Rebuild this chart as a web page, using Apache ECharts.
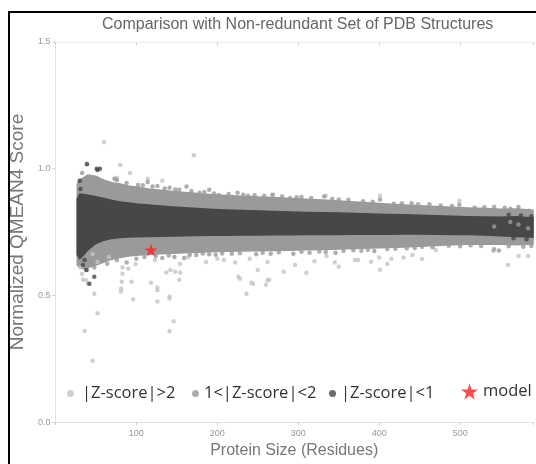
<!DOCTYPE html>
<html>
<head>
<meta charset="utf-8">
<script src="https://cdn.jsdelivr.net/npm/echarts@6/dist/echarts.min.js"></script>
<style>
html,body{margin:0;padding:0;background:#fff;}
#c{width:536px;height:464px;}
</style>
</head>
<body>
<div id="c"></div>
<script>
// ---- Data ----
const titleText = 'Comparison with Non-redundant Set of PDB Structures';
const xName = 'Protein Size (Residues)';
const yName = 'Normalized QMEAN4 Score';
const seriesNames = ['|Z-score|>2', '1<|Z-score|<2', '|Z-score|<1', 'model'];

// Density bands (x = residues, values = score)
const bandX     = [27, 30, 35, 40, 50, 60, 70, 80, 90, 100, 115, 130, 145, 160, 175, 190, 210, 230, 250, 270, 290, 310, 330, 350, 370, 390, 410, 430, 450, 470, 490, 510, 530, 550, 570, 590];
const midUpper  = [0.94, 0.955, 0.965, 0.975, 0.97, 0.955, 0.945, 0.94, 0.932, 0.928, 0.92, 0.915, 0.91, 0.906, 0.902, 0.898, 0.894, 0.891, 0.888, 0.886, 0.882, 0.879, 0.876, 0.873, 0.869, 0.865, 0.861, 0.857, 0.854, 0.851, 0.848, 0.845, 0.843, 0.84, 0.841, 0.836];
const midLower  = [0.62, 0.61, 0.605, 0.61, 0.62, 0.632, 0.643, 0.65, 0.655, 0.658, 0.662, 0.664, 0.666, 0.668, 0.67, 0.672, 0.674, 0.675, 0.676, 0.677, 0.678, 0.68, 0.681, 0.683, 0.685, 0.687, 0.689, 0.691, 0.694, 0.697, 0.70, 0.702, 0.703, 0.702, 0.70, 0.703];
const darkUpper = [0.88, 0.90, 0.898, 0.895, 0.889, 0.882, 0.875, 0.869, 0.865, 0.861, 0.857, 0.853, 0.849, 0.846, 0.843, 0.84, 0.837, 0.835, 0.833, 0.831, 0.829, 0.827, 0.826, 0.825, 0.823, 0.821, 0.819, 0.818, 0.816, 0.814, 0.812, 0.81, 0.809, 0.808, 0.81, 0.806];
const darkLower = [0.66, 0.645, 0.66, 0.68, 0.705, 0.718, 0.725, 0.728, 0.73, 0.731, 0.732, 0.733, 0.734, 0.735, 0.736, 0.737, 0.737, 0.738, 0.738, 0.739, 0.739, 0.74, 0.74, 0.74, 0.741, 0.741, 0.741, 0.742, 0.742, 0.741, 0.74, 0.74, 0.738, 0.735, 0.732, 0.73];

// |Z-score|>2 outliers
const outlierPts = [
  [60,1.104],[171,1.053],[39,1.022],[80,1.015],[92,0.983],[76,0.964],[114,0.96],[132,0.952],
  [269,0.897],[334,0.893],[401,0.893],[499,0.874],
  [34,0.562],[40,0.546],[48,0.507],[82,0.554],[94,0.554],[81,0.527],[81,0.515],[96,0.484],
  [118,0.55],[126,0.531],[126,0.52],[141,0.496],[142,0.60],[148,0.593],[154,0.59],[153,0.562],
  [52,0.43],[36,0.36],[46,0.242],[126,0.476],[141,0.488],[146,0.398],[141,0.359],[90,0.605],
  [46,0.663],[52,0.632],[66,0.652],[83,0.61],[83,0.585],[99,0.624],[123,0.64],[137,0.59],
  [154,0.624],[164,0.652],[186,0.632],[208,0.64],[222,0.63],[240,0.645],[262,0.632],
  [228,0.566],[242,0.55],[262,0.56],[31,0.61],[33,0.585],[38,0.56],
  [226,0.574],[236,0.507],[244,0.546],[250,0.60],[260,0.542],[264,0.562],[282,0.593],
  [310,0.589],[350,0.613],[320,0.635],[345,0.63],[370,0.64],[390,0.633],[400,0.65],
  [415,0.645],[430,0.65],[401,0.601],[374,0.64],[410,0.624],[441,0.659],[453,0.644],
  [470,0.679],[559,0.62],[572,0.655],[584,0.655],[541,0.675],[200,0.645],[296,0.62],[335,0.655]
];
// 1<|Z-score|<2 scattered edge points
const midPts = [
  [33,0.983],[35,0.956],[51,0.936],[73,0.96],[76,0.955],[88,0.944],[102,0.936],[114,0.948],
  [126,0.932],[141,0.925],[153,0.917],[162,0.93],[178,0.905],[190,0.917],[202,0.896],
  [225,0.905],[238,0.893],[268,0.897],[290,0.884],[304,0.888],[332,0.89],[350,0.878],
  [401,0.878],[418,0.862],[440,0.864],[462,0.86],[499,0.858],[518,0.846],[542,0.849],
  [562,0.842],[572,0.849],[585,0.834],[572,0.78],[584,0.765],[562,0.79],[542,0.772],
  [39,0.60],[48,0.61],[64,0.625],[76,0.64],[88,0.63],[100,0.645],[132,0.648],[147,0.652],
  [159,0.648],[174,0.659],[182,0.665],[198,0.66],[218,0.664],[248,0.662],[266,0.664],
  [294,0.664],[314,0.668],[334,0.671],[346,0.668],[378,0.676],[394,0.675],[410,0.683],
  [434,0.686],[453,0.692],[486,0.696],[513,0.698],[542,0.682],[548,0.677],[578,0.692],
  [108,0.935],[120,0.93],[135,0.922],[148,0.918],[168,0.912],[184,0.908],[196,0.902],
  [214,0.9],[232,0.897],[246,0.895],[258,0.893],[280,0.89],[298,0.887],[316,0.884],
  [342,0.88],[362,0.877],[380,0.872],[392,0.87],[428,0.864],[448,0.86],[476,0.855],
  [490,0.853],[530,0.848],[555,0.846],
  [110,0.652],[124,0.655],[140,0.657],[166,0.66],[190,0.662],[206,0.665],[228,0.666],
  [256,0.668],[276,0.67],[304,0.672],[326,0.673],[356,0.676],[368,0.678],[386,0.68],
  [420,0.684],[444,0.687],[466,0.69],[500,0.694],[526,0.695],[560,0.694],[588,0.695]
];
// |Z-score|<1 scattered points (left edge)
const darkPts = [
  [30,0.952],[31,0.92],[33,0.88],[29,0.83],[32,0.78],[29,0.74],[31,0.70],[33,0.67],
  [36,0.64],[34,0.62],[42,0.546],[48,0.574],[51,1.0],[55,1.0],[39,1.018],[52,0.995],[38,0.60],
  [575,0.815],[588,0.812],[560,0.818],[582,0.722],[566,0.726]
];
// model point
const modelPts = [[118, 0.679]];

const xTicks = [100, 200, 300, 400, 500];

// ---- Chart ----
const chart = echarts.init(document.getElementById('c'), null, {renderer: 'canvas'});
const COL_LIGHT = '#c4c4c4', COL_MID = '#9a9a9a', COL_DARK = '#474747';
const STAR = 'path://M50,0 L61.2,34.5 L97.6,34.5 L68.2,55.9 L79.4,90.5 L50,69.1 L20.6,90.5 L31.8,55.9 L2.4,34.5 L38.8,34.5 Z';

function bandSeries(name, upper, lower, color) {
  return {
    type: 'custom', name: name, z: 1, silent: true, clip: true,
    data: bandX.map((x, i) => [x, upper[i], lower[i]]),
    encode: {x: 0, y: [1, 2]},
    renderItem: function (params, api) {
      if (params.dataIndex !== 0) return null;
      const pts = [];
      for (let i = 0; i < bandX.length; i++) pts.push(api.coord([bandX[i], upper[i]]));
      for (let i = bandX.length - 1; i >= 0; i--) pts.push(api.coord([bandX[i], lower[i]]));
      return {type: 'polygon', shape: {points: pts}, style: {fill: color, stroke: color, lineWidth: 1.5}};
    }
  };
}

const legendBase = {
  orient: 'horizontal', itemGap: 0, itemWidth: 7, itemHeight: 7, padding: 0,
  textStyle: {color: '#333', fontSize: 16.5, fontFamily: 'Open Sans'},
  selectedMode: false
};

chart.setOption({
  animation: false,
  backgroundColor: '#fff',
  title: {
    text: titleText, left: 97, top: 12,
    textStyle: {color: '#666', fontSize: 16, fontWeight: 'normal', fontFamily: 'Liberation Sans'}
  },
  grid: {left: 45, top: 42, width: 492.5, height: 385, containLabel: false},
  xAxis: [{
    type: 'value', min: 0, max: 590, interval: 100, position: 'bottom',
    name: xName, nameLocation: 'middle', nameGap: 19,
    nameTextStyle: {color: '#777', fontSize: 16, fontFamily: 'Liberation Sans'},
    axisLine: {show: true, lineStyle: {color: '#e4e4e4', width: 1}},
    axisTick: {show: true, length: 3, lineStyle: {color: '#cfcfcf'}},
    axisLabel: {color: '#999', fontSize: 9, margin: 7, fontFamily: 'Liberation Sans',
      formatter: v => (xTicks.indexOf(v) >= 0 ? String(v) : '')},
    splitLine: {show: false}
  }, {
    type: 'value', min: 0, max: 590, interval: 100, position: 'top',
    axisLine: {show: true, lineStyle: {color: '#ececec', width: 1}},
    axisTick: {show: true, inside: true, length: 3, lineStyle: {color: '#cfcfcf'}},
    axisLabel: {show: false}, splitLine: {show: false}
  }],
  yAxis: {
    type: 'value', min: 0, max: 1.5, interval: 0.5,
    name: yName, nameLocation: 'middle', nameGap: 20, nameRotate: 90,
    nameTextStyle: {color: '#777', fontSize: 19, fontFamily: 'Liberation Sans'},
    axisLine: {show: true, lineStyle: {color: '#e4e4e4', width: 1}},
    axisTick: {show: true, length: 3, lineStyle: {color: '#cfcfcf'}},
    axisLabel: {color: '#999', fontSize: 9, margin: 5, fontFamily: 'Liberation Sans',
      formatter: v => v.toFixed(1)},
    splitLine: {show: false}
  },
  legend: [
    Object.assign({}, legendBase, {data: [seriesNames[0]], left: 67, top: 385,
      textStyle: Object.assign({}, legendBase.textStyle, {padding: [0, 0, 0, 3]})}),
    Object.assign({}, legendBase, {data: [seriesNames[1]], left: 192, top: 385}),
    Object.assign({}, legendBase, {data: [seriesNames[2]], left: 329, top: 385}),
    Object.assign({}, legendBase, {data: [seriesNames[3]], left: 461, top: 383, itemWidth: 17, itemHeight: 17})
  ],
  series: [
    bandSeries('band-mid', midUpper, midLower, COL_MID),
    bandSeries('band-dark', darkUpper, darkLower, COL_DARK),
    {type: 'scatter', name: seriesNames[0], data: outlierPts, symbol: 'circle', symbolSize: 4.5,
      itemStyle: {color: COL_LIGHT}, z: 2},
    {type: 'scatter', name: seriesNames[1], data: midPts, symbol: 'circle', symbolSize: 4.5,
      itemStyle: {color: COL_MID}, z: 3},
    {type: 'scatter', name: seriesNames[2], data: darkPts, symbol: 'circle', symbolSize: 4.5,
      itemStyle: {color: COL_DARK}, z: 4},
    {type: 'scatter', name: seriesNames[3], data: modelPts, symbol: STAR, symbolSize: 13,
      itemStyle: {color: '#ff2020'}, z: 5}
  ],
  graphic: [{
    type: 'rect', z: 100, silent: true,
    shape: {x: 9, y: 12, width: 700, height: 700},
    style: {fill: null, stroke: '#000', lineWidth: 2}
  }]
});
</script>
</body>
</html>
